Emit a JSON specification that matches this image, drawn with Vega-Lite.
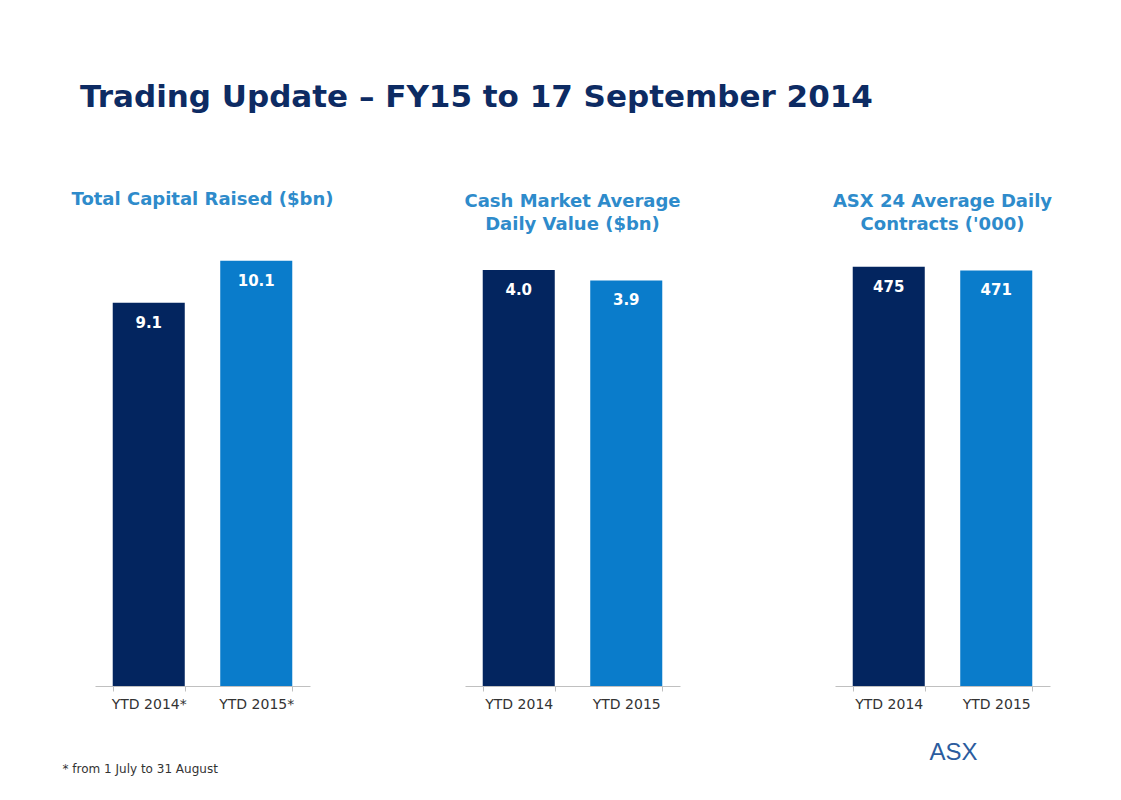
{
  "$schema": "https://vega.github.io/schema/vega-lite/v6.json",
  "background": "white",
  "padding": {"left": 62, "top": 82, "right": 10, "bottom": 5},
  "bounds": "flush",
  "spacing": 155,
  "title": {
    "text": "Trading Update – FY15 to 17 September 2014",
    "anchor": "start",
    "font": "DejaVu Sans",
    "fontSize": 31,
    "fontWeight": "bold",
    "color": "#0D2B63",
    "offset": 77,
    "dx": 18
  },
  "data": {
    "values": [
      {"panel": "capital", "period": "YTD 2014*", "value": 9.1, "label": "9.1"},
      {"panel": "capital", "period": "YTD 2015*", "value": 10.1, "label": "10.1"},
      {"panel": "cash", "period": "YTD 2014", "value": 4.0, "label": "4.0"},
      {"panel": "cash", "period": "YTD 2015", "value": 3.9, "label": "3.9"},
      {"panel": "asx24", "period": "YTD 2014", "value": 475, "label": "475"},
      {"panel": "asx24", "period": "YTD 2015", "value": 471, "label": "471"}
    ]
  },
  "config": {
    "view": {"stroke": null},
    "title": {"font": "DejaVu Sans", "fontSize": 18, "fontWeight": "bold", "color": "#2E8BCB", "lineHeight": 23},
    "axisX": {
      "labelAngle": 0,
      "labelFont": "DejaVu Sans",
      "labelFontSize": 14,
      "labelColor": "#333333",
      "labelPadding": 6,
      "domainColor": "#C0C0C0",
      "tickColor": "#C0C0C0",
      "tickSize": 5,
      "tickBand": "extent",
      "grid": false
    }
  },
  "hconcat": [
    {
      "width": 215,
      "height": 430,
      "title": {"text": "Total Capital Raised ($bn)", "offset": 47},
      "transform": [{"filter": "datum.panel === 'capital'"}],
      "encoding": {
        "x": {"field": "period", "type": "nominal", "sort": null,
          "scale": {"paddingInner": 0.33, "paddingOuter": 0.165},
          "axis": {"title": "* from 1 July to 31 August", "titleFont": "DejaVu Sans", "titleFontSize": 12, "titleFontWeight": "normal", "titleColor": "#333333", "titleAnchor": "start", "titleAlign": "left", "titleBaseline": "middle", "titleX": -33, "titleY": 82}},
        "y": {"field": "value", "type": "quantitative", "scale": {"domain": [0, 10.21], "nice": false}, "axis": null}
      },
      "layer": [
        {"mark": {"type": "bar"}, "encoding": {"color": {"field": "period", "type": "nominal", "sort": null, "scale": {"range": ["#03255F", "#0A7CCB"]}, "legend": null}}},
        {"mark": {"type": "text", "color": "white", "font": "DejaVu Sans", "fontSize": 15, "fontWeight": "bold", "baseline": "middle", "dy": 20}, "encoding": {"text": {"field": "label"}}}
      ]
    },
    {
      "width": 215,
      "height": 430,
      "title": {"text": ["Cash Market Average", "Daily Value ($bn)"], "offset": 22},
      "transform": [{"filter": "datum.panel === 'cash'"}],
      "encoding": {
        "x": {"field": "period", "type": "nominal", "sort": null,
          "scale": {"paddingInner": 0.33, "paddingOuter": 0.165},
          "axis": {"title": null}},
        "y": {"field": "value", "type": "quantitative", "scale": {"domain": [0, 4.135], "nice": false}, "axis": null}
      },
      "layer": [
        {"mark": {"type": "bar"}, "encoding": {"color": {"field": "period", "type": "nominal", "sort": null, "scale": {"range": ["#03255F", "#0A7CCB"]}, "legend": null}}},
        {"mark": {"type": "text", "color": "white", "font": "DejaVu Sans", "fontSize": 15, "fontWeight": "bold", "baseline": "middle", "dy": 20}, "encoding": {"text": {"field": "label"}}}
      ]
    },
    {
      "width": 215,
      "height": 430,
      "title": {"text": ["ASX 24 Average Daily", "Contracts ('000)"], "offset": 22},
      "transform": [{"filter": "datum.panel === 'asx24'"}],
      "encoding": {
        "x": {"field": "period", "type": "nominal", "sort": null,
          "scale": {"paddingInner": 0.33, "paddingOuter": 0.165},
          "axis": {"title": "ASX", "titleFont": "Liberation Sans", "titleFontSize": 24, "titleFontWeight": "normal", "titleColor": "#2B5C9E", "titleAnchor": "start", "titleAlign": "left", "titleBaseline": "middle", "titleX": 94, "titleY": 66}},
        "y": {"field": "value", "type": "quantitative", "scale": {"domain": [0, 487.3], "nice": false}, "axis": null}
      },
      "layer": [
        {"mark": {"type": "bar"}, "encoding": {"color": {"field": "period", "type": "nominal", "sort": null, "scale": {"range": ["#03255F", "#0A7CCB"]}, "legend": null}}},
        {"mark": {"type": "text", "color": "white", "font": "DejaVu Sans", "fontSize": 15, "fontWeight": "bold", "baseline": "middle", "dy": 20}, "encoding": {"text": {"field": "label"}}}
      ]
    }
  ],
  "resolve": {"scale": {"color": "independent"}}
}
